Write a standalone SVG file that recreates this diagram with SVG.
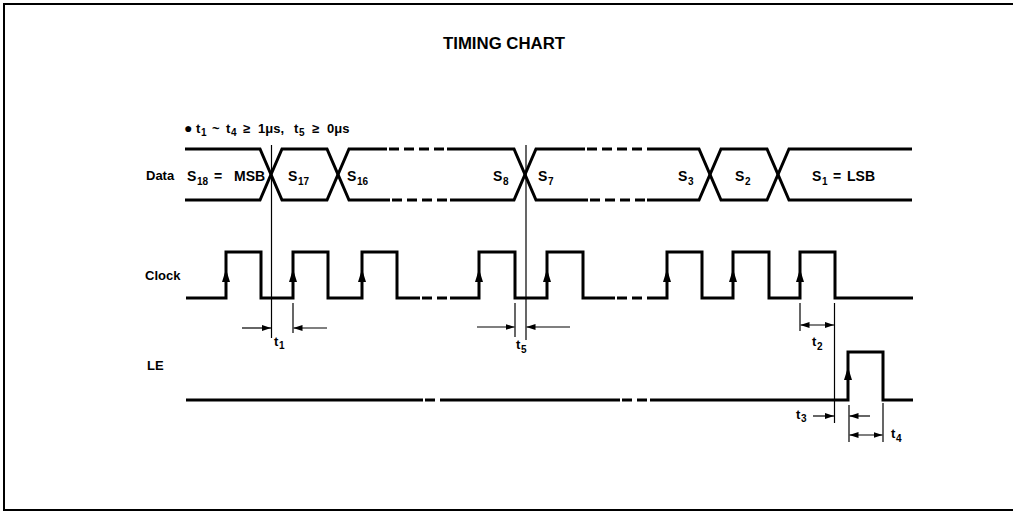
<svg xmlns="http://www.w3.org/2000/svg" width="1013" height="512" viewBox="0 0 1013 512">
<style>
text{font-family:"Liberation Sans",Arial,"DejaVu Sans",sans-serif;font-weight:bold;fill:#000}
.lbl{font-size:13px}
.sig{font-size:14px}
.sub{font-size:10px}
.w{fill:none;stroke:#000;stroke-width:3;stroke-linejoin:miter}
.wd{fill:none;stroke:#000;stroke-width:3;stroke-dasharray:10 5}
.thin{fill:none;stroke:#000;stroke-width:1.2}
.ar{fill:none;stroke:#000;stroke-width:1.2;marker-end:url(#ah)}
.dar{fill:none;stroke:#000;stroke-width:1.2;marker-start:url(#ah);marker-end:url(#ah)}
</style>
<defs>
<marker id="ah" viewBox="0 0 9 6" refX="9" refY="3" markerWidth="9" markerHeight="6" orient="auto-start-reverse" markerUnits="userSpaceOnUse"><path d="M0,0 L9,3 L0,6 z" fill="#000"/></marker>
<path id="up" d="M0,0 L-4,13 L4,13 z" fill="#000"/>
</defs>
<rect width="1013" height="512" fill="#fff"/>
<path d="M1013,4 H4 V510 H1013" fill="none" stroke="#000" stroke-width="2"/>

<g id="title"><text x="443" y="49" font-size="16" textLength="122" lengthAdjust="spacingAndGlyphs">TIMING CHART</text></g>

<g id="note"><text font-size="13">
<tspan x="184" y="133" font-size="14">●</tspan>
<tspan x="196" y="133">t</tspan><tspan x="201" y="136" class="sub">1</tspan>
<tspan x="212" y="133">~</tspan>
<tspan x="226" y="133">t</tspan><tspan x="231" y="136" class="sub">4</tspan>
<tspan x="243" y="133">≥</tspan>
<tspan x="258" y="133">1μs,</tspan>
<tspan x="294" y="133">t</tspan><tspan x="299" y="136" class="sub">5</tspan>
<tspan x="312" y="133">≥</tspan>
<tspan x="327" y="133">0μs</tspan>
</text></g>

<g id="labels">
<text class="lbl" x="146" y="180">Data</text>
<text class="lbl" x="145" y="280">Clock</text>
<text class="lbl" x="147" y="370">LE</text>
</g>

<g id="data">
<path class="w" d="M185,149 H260 L282,200 H327 L349,149 H387"/>
<path class="w" d="M185,200 H260 L282,149 H327 L349,200 H390"/>
<path class="wd" d="M389,149 H447"/>
<path class="wd" d="M392,200 H450"/>
<path class="w" d="M447,149 H514 L536,200 H588"/>
<path class="w" d="M450,200 H514 L536,149 H585"/>
<path class="wd" d="M587,149 H647"/>
<path class="wd" d="M590,200 H647"/>
<path class="w" d="M647,149 H699 L721,200 H767 L789,149 H912"/>
<path class="w" d="M647,200 H699 L721,149 H767 L789,200 H912"/>
<text class="sig"><tspan x="187" y="181">S</tspan><tspan x="197" y="185" class="sub">18</tspan><tspan x="214" y="181">=</tspan><tspan x="234" y="181">MSB</tspan></text>
<text class="sig"><tspan x="288" y="181">S</tspan><tspan x="298" y="185" class="sub">17</tspan></text>
<text class="sig"><tspan x="347" y="181">S</tspan><tspan x="357" y="185" class="sub">16</tspan></text>
<text class="sig"><tspan x="493" y="181">S</tspan><tspan x="503" y="185" class="sub">8</tspan></text>
<text class="sig"><tspan x="538" y="181">S</tspan><tspan x="548" y="185" class="sub">7</tspan></text>
<text class="sig"><tspan x="678" y="181">S</tspan><tspan x="688" y="185" class="sub">3</tspan></text>
<text class="sig"><tspan x="735" y="181">S</tspan><tspan x="745" y="185" class="sub">2</tspan></text>
<text class="sig"><tspan x="812" y="181">S</tspan><tspan x="822" y="185" class="sub">1</tspan><tspan x="833" y="181">=</tspan><tspan x="847" y="181">LSB</tspan></text>
</g>

<g id="clock">
<path class="w" d="M186,298 H226 V252 H261 V298 H293 V252 H328 V298 H362 V252 H397 V298 H420"/>
<path class="wd" d="M422,298 H450"/>
<path class="w" d="M450,298 H479 V252 H515 V298 H547 V252 H583 V298 H615"/>
<path class="wd" d="M617,298 H650"/>
<path class="w" d="M650,298 H667 V252 H702 V298 H733 V252 H769 V298 H800 V252 H835 V298 H913"/>
<use href="#up" x="226" y="269"/>
<use href="#up" x="293" y="269"/>
<use href="#up" x="362" y="269"/>
<use href="#up" x="479" y="269"/>
<use href="#up" x="547" y="269"/>
<use href="#up" x="667" y="269"/>
<use href="#up" x="733" y="269"/>
<use href="#up" x="800" y="269"/>
</g>

<g id="le">
<path class="w" d="M186,400 H423"/>
<path class="wd" d="M425,400 H450"/>
<path class="w" d="M450,400 H620"/>
<path class="wd" d="M622,400 H650"/>
<path class="w" d="M650,400 H848 V352 H883 V400 H913"/>
<use href="#up" x="848" y="367"/>
</g>

<g id="connectors">
<line class="thin" x1="271.5" y1="145" x2="271.5" y2="338"/>
<line class="thin" x1="293" y1="303" x2="293" y2="333"/>
<line class="ar" x1="242" y1="328" x2="271" y2="328"/>
<line class="ar" x1="327" y1="328" x2="293.5" y2="328"/>
<text class="lbl"><tspan x="274" y="346">t</tspan><tspan x="279" y="349" class="sub">1</tspan></text>

<line class="thin" x1="526" y1="145" x2="526" y2="340"/>
<line class="thin" x1="515" y1="303" x2="515" y2="337"/>
<line class="ar" x1="477" y1="327" x2="514.5" y2="327"/>
<line class="ar" x1="570" y1="327" x2="526.5" y2="327"/>
<text class="lbl"><tspan x="516" y="349">t</tspan><tspan x="521" y="353" class="sub">5</tspan></text>

<line class="thin" x1="800" y1="303" x2="800" y2="331"/>
<line class="thin" x1="834.5" y1="303" x2="834.5" y2="423"/>
<line class="dar" x1="800.5" y1="325" x2="834" y2="325"/>
<text class="lbl"><tspan x="812" y="346">t</tspan><tspan x="817" y="350" class="sub">2</tspan></text>

<line class="ar" x1="813" y1="416" x2="834" y2="416"/>
<text class="lbl"><tspan x="796" y="419">t</tspan><tspan x="801" y="422" class="sub">3</tspan></text>

<line class="thin" x1="849" y1="405" x2="849" y2="442"/>
<line class="thin" x1="883" y1="403" x2="883" y2="442"/>
<line class="ar" x1="870" y1="416" x2="849.5" y2="416"/>
<line class="dar" x1="849.5" y1="435" x2="882.5" y2="435"/>
<text class="lbl"><tspan x="891" y="438">t</tspan><tspan x="896" y="442" class="sub">4</tspan></text>
</g>
</svg>
